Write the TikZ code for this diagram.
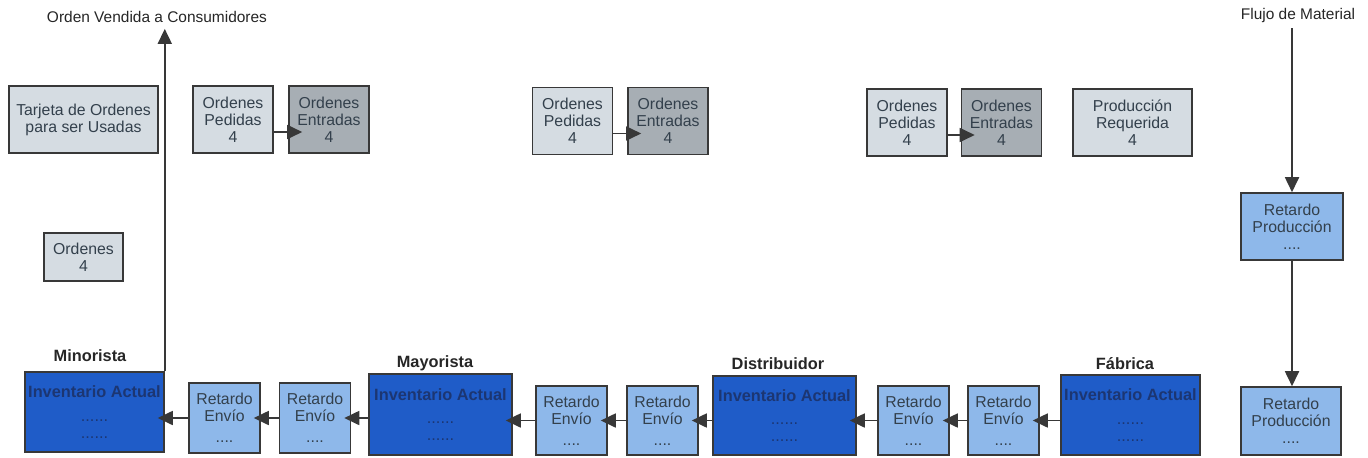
\documentclass[tikz,border=0pt]{standalone}
\usepackage{fontspec}
\setmainfont{Liberation Sans}
\usetikzlibrary{arrows.meta}
\definecolor{ordgray}{HTML}{D5DCE2}
\definecolor{entgray}{HTML}{A7AEB4}
\definecolor{retblue}{HTML}{8EB8EA}
\definecolor{invblue}{HTML}{1F5CC8}
\definecolor{invtext}{HTML}{1C3672}
\definecolor{edge}{HTML}{383838}
\definecolor{txt}{HTML}{33404C}
\begin{document}
\begin{tikzpicture}[x=0.02cm,y=-0.02cm,
  box/.style={draw=edge,line width=0.9pt,align=center,inner sep=0pt,text=txt,
    font=\fontsize{9}{9.7}\selectfont,minimum width=1.6cm,minimum height=1.34cm},
  ordbox/.style={box,fill=ordgray},
  entbox/.style={box,fill=entgray},
  retbox/.style={box,fill=retblue,minimum width=1.42cm,minimum height=1.4cm},
  invbox/.style={box,fill=invblue,text=invtext,minimum width=2.8cm,minimum height=1.6cm,
    font=\fontsize{9.3}{10.5}\selectfont\bfseries},
  title/.style={font=\fontsize{9.3}{11}\selectfont\bfseries,text=black!85},
  flow/.style={font=\fontsize{8.8}{10}\selectfont,text=black!85},
  conn/.style={-{Triangle[length=0.3cm,width=0.28cm]},draw=edge,line width=1pt}]
  \useasboundingbox (0,0) rectangle (1368,457);
  % orders side
  \node[flow] (cons) at (157,17) {Orden Vendida a Consumidores};
  \node[ordbox,minimum width=2.98cm] (tarjeta) at (83.5,119.5) {Tarjeta de Ordenes\\para ser Usadas};
  \node[ordbox] (ped1) at (233,119.5) {Ordenes\\Pedidas\\4};
  \node[entbox] (ent1) at (329,119.5) {Ordenes\\Entradas\\4};
  \node[ordbox,minimum width=1.58cm,minimum height=0.96cm] (ordenes) at (83.5,257) {Ordenes\\4};
  \node[ordbox] (ped2) at (572.5,121) {Ordenes\\Pedidas\\4};
  \node[entbox] (ent2) at (668,121) {Ordenes\\Entradas\\4};
  \node[ordbox] (ped3) at (907,122.5) {Ordenes\\Pedidas\\4};
  \node[entbox] (ent3) at (1001.5,122.5) {Ordenes\\Entradas\\4};
  \node[ordbox,minimum width=2.38cm] (req) at (1132.5,122.5) {Producci\'on\\Requerida\\4};
  % material side
  \node[flow] (flujo) at (1298,15) {Flujo de Material};
  \node[retbox,minimum width=2.04cm,minimum height=1.34cm] (rp1) at (1292,226.5) {Retardo\\Producci\'on\\....};
  \node[retbox,minimum width=2cm,minimum height=1.36cm] (rp2) at (1291,421) {Retardo\\Producci\'on\\....};
  \node[title] (minorista) at (90,356) {Minorista};
  \node[title] (mayorista) at (435,363) {Mayorista};
  \node[title] (distrib) at (778,364) {Distribuidor};
  \node[title] (fabrica) at (1125,364) {F\'abrica};
  \node[invbox,minimum width=2.78cm] (inv1) at (94.5,412) {Inventario Actual\\[3pt]\mdseries ......\\[-1pt]\mdseries ......};
  \node[retbox] (re1) at (224.5,418) {Retardo\\Env\'io\\[2pt]....};
  \node[retbox] (re2) at (315,418) {Retardo\\Env\'io\\[2pt]....};
  \node[invbox,minimum width=2.86cm,minimum height=1.62cm] (inv2) at (440.5,414.5) {Inventario Actual\\[3pt]\mdseries ......\\[-1pt]\mdseries ......};
  \node[retbox,minimum height=1.38cm] (re3) at (571.5,420.5) {Retardo\\Env\'io\\[2pt]....};
  \node[retbox,minimum height=1.38cm] (re4) at (662.5,420.5) {Retardo\\Env\'io\\[2pt]....};
  \node[invbox,minimum width=2.86cm,minimum height=1.58cm] (inv3) at (784.5,415.5) {Inventario Actual\\[3pt]\mdseries ......\\[-1pt]\mdseries ......};
  \node[retbox,minimum height=1.38cm] (re5) at (913.5,420.5) {Retardo\\Env\'io\\[2pt]....};
  \node[retbox,minimum height=1.38cm] (re6) at (1003.5,420.5) {Retardo\\Env\'io\\[2pt]....};
  \node[invbox,minimum width=2.78cm] (inv4) at (1130.5,415) {Inventario Actual\\[3pt]\mdseries ......\\[-1pt]\mdseries ......};
  % connectors
  \draw [conn] (inv1.north east) -- (inv1.north east |- cons.south);
  \draw [conn,shorten >=-0.28cm] ([yshift=-0.25cm]ped1.east) -- ([yshift=-0.25cm]ent1.west);
  \draw [conn,shorten >=-0.28cm] ([yshift=-0.25cm]ped2.east) -- ([yshift=-0.25cm]ent2.west);
  \draw [conn,shorten >=-0.28cm] ([yshift=-0.25cm]ped3.east) -- ([yshift=-0.25cm]ent3.west);
  \draw [conn] (flujo.south -| rp1.north) -- (rp1.north);
  \draw [conn] (rp1.south) -- (rp1.south |- rp2.north);
  \draw [conn,shorten >=-0.14cm] (re1.west) -- (re1.west -| inv1.east);
  \draw [conn,shorten >=-0.14cm] (re2.west) -- (re1.east);
  \draw [conn,shorten >=-0.14cm] (inv2.west |- re2.east) -- (re2.east);
  \draw [conn,shorten >=-0.14cm] (re3.west) -- (re3.west -| inv2.east);
  \draw [conn,shorten >=-0.14cm] (re4.west) -- (re3.east);
  \draw [conn,shorten >=-0.14cm] (inv3.west |- re4.east) -- (re4.east);
  \draw [conn,shorten >=-0.14cm] (re5.west) -- (re5.west -| inv3.east);
  \draw [conn,shorten >=-0.14cm] (re6.west) -- (re5.east);
  \draw [conn,shorten >=-0.14cm] (inv4.west |- re6.east) -- (re6.east);
\end{tikzpicture}
\end{document}
